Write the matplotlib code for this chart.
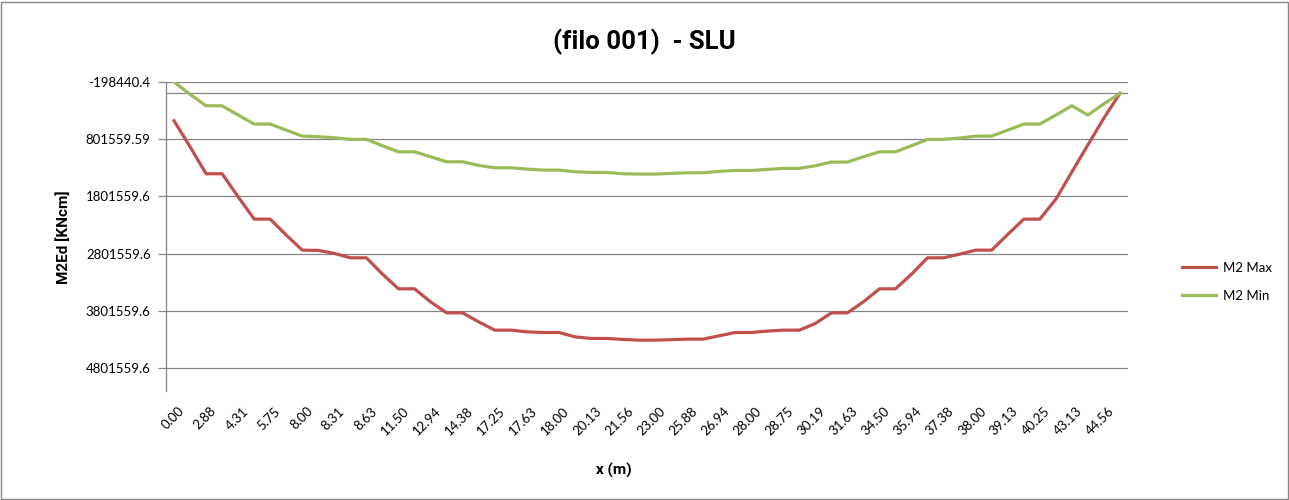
import matplotlib
matplotlib.use('Agg')
import matplotlib.pyplot as plt
import matplotlib.transforms as mtrans
from matplotlib.patches import Rectangle
import numpy as np

plt.rcParams['font.family'] = ['Lato', 'DejaVu Sans']
BOLD_FAMILY = ['Roboto', 'DejaVu Sans']

# ---------------- data ----------------
x_labels = ["0.00", "2.88", "4.31", "5.75", "8.00", "8.31", "8.63", "11.50", "12.94", "14.38",
            "17.25", "17.63", "18.00", "20.13", "21.56", "23.00", "25.88", "26.94", "28.00", "28.75",
            "30.19", "31.63", "34.50", "35.94", "37.38", "38.00", "39.13", "40.25", "43.13", "44.56"]

m2_max = [479000, 933000, 1405000, 1405000, 1808000, 2198000, 2198000, 2477000, 2740000, 2745000,
          2797000, 2874000, 2874000, 3159000, 3416000, 3416000, 3643000, 3836000, 3836000, 3993000,
          4138000, 4138000, 4168000, 4179000, 4179000, 4255000, 4283000, 4283000, 4300000, 4313000,
          4313000, 4305000, 4295000, 4295000, 4237000, 4179000, 4179000, 4155000, 4138000, 4138000,
          4021000, 3836000, 3836000, 3643000, 3416000, 3416000, 3159000, 2874000, 2874000, 2810000,
          2740000, 2740000, 2465000, 2198000, 2198000, 1850000, 1373000, 900000, 430000, 0]

m2_min = [-198440, 17000, 217000, 217000, 379000, 537000, 537000, 642000, 747000, 758000,
          776000, 804000, 804000, 916000, 1021000, 1021000, 1108000, 1196000, 1196000, 1259000,
          1300000, 1300000, 1323000, 1341000, 1341000, 1370000, 1382000, 1382000, 1405000, 1411000,
          1411000, 1399000, 1388000, 1388000, 1364000, 1347000, 1347000, 1329000, 1311000, 1311000,
          1265000, 1201000, 1201000, 1108000, 1021000, 1021000, 916000, 804000, 804000, 781000,
          747000, 747000, 642000, 537000, 537000, 379000, 217000, 379000, 182000, 0]

y_ticks = [-198440.4, 801559.59, 1801559.6, 2801559.6, 3801559.6, 4801559.6]
y_tick_labels = ["-198440.4", "801559.59", "1801559.6", "2801559.6", "3801559.6", "4801559.6"]
y_axis_max = 5201559.6

title = "(filo 001)  - SLU"
series_names = ["M2 Max", "M2 Min"]
colors = ["#C0504D", "#9BBB59"]

# ---------------- figure ----------------
W, H = 1289, 500
fig = plt.figure(figsize=(W / 100, H / 100), dpi=100)
fig.patch.set_facecolor('white')
fig.patches.append(Rectangle((0.5 / W, 1.5 / H), (W - 2) / W, (H - 3) / H, transform=fig.transFigure,
                             fill=False, edgecolor='#868686', lw=1.0))

L, R, T, B = 166, 1128, 82, 391
ax = fig.add_axes([L / W, 1 - B / H, (R - L) / W, (B - T) / H])
pos = np.arange(len(m2_max))

grid_c = '#868686'
ax.plot(pos, m2_max, color=colors[0], lw=2.3, label=series_names[0], solid_joinstyle='round', zorder=3)
ax.plot(pos, m2_min, color=colors[1], lw=2.3, label=series_names[1], solid_joinstyle='round', zorder=3)

ax.set_xlim(-0.5, len(pos) - 0.5)
ax.set_ylim(y_axis_max, y_ticks[0])
ax.set_yticks(y_ticks)
ax.set_yticklabels(y_tick_labels, fontsize=9.5)
ax.grid(axis='y', color=grid_c, lw=0.9)
ax.axhline(0, color=grid_c, lw=0.9, zorder=2)
for s in ['top', 'right', 'bottom']:
    ax.spines[s].set_visible(False)
ax.spines['left'].set_color(grid_c)
ax.spines['left'].set_linewidth(0.9)
ax.tick_params(axis='y', length=6, width=0.9, color=grid_c, pad=5)

ax.set_xticks(pos[::2])
ax.set_xticklabels(x_labels, rotation=45, ha='right', va='top', rotation_mode='anchor', fontsize=9.5)
ax.tick_params(axis='x', length=0, pad=10)
off = mtrans.ScaledTranslation(4 / 100, 0, fig.dpi_scale_trans)
for lbl in ax.get_xticklabels():
    lbl.set_transform(lbl.get_transform() + off)

fig.text(0.5, 1 - 42 / H, title, ha='center', va='center', fontsize=18.5, fontweight='bold',
         family=BOLD_FAMILY)
fig.text(64 / W, 1 - 237 / H, "M2Ed [KNcm]", rotation=90, ha='center', va='center',
         fontsize=11, fontweight='bold', family=BOLD_FAMILY)
fig.text(614 / W, 1 - 470 / H, "x (m)", ha='center', va='center', fontsize=11, fontweight='bold',
         family=BOLD_FAMILY)

ax.legend(loc='center left', bbox_to_anchor=(1170 / W, 1 - 282 / H), bbox_transform=fig.transFigure,
          frameon=False, fontsize=9.5, handlelength=2.6, labelspacing=1.2, handletextpad=0.5)

fig.savefig('out.png', dpi=100)
